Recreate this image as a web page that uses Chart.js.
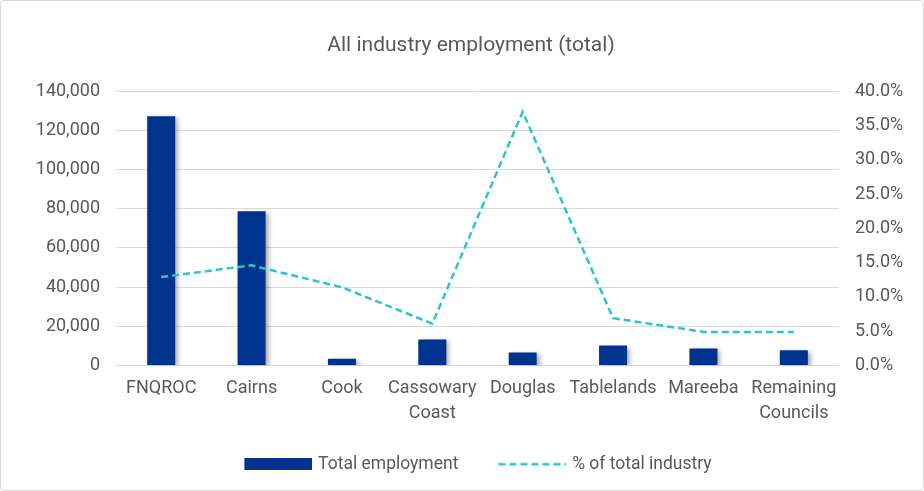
<!DOCTYPE html>
<html>
<head>
<meta charset="utf-8">
<script src="https://cdn.jsdelivr.net/npm/chart.js@4/dist/chart.umd.min.js"></script>
<style>
html,body{margin:0;padding:0;background:#fff;}
#wrap{position:relative;width:924px;height:491px;box-sizing:border-box;border:1px solid #d9d9d9;border-radius:4px;overflow:hidden;}
canvas{display:block;}
</style>
</head>
<body>
<div id="wrap"><canvas id="c" width="922" height="489" style="width:922px;height:489px"></canvas></div>
<script>
const categories = ['FNQROC', 'Cairns', 'Cook', ['Cassowary', 'Coast'], 'Douglas', 'Tablelands', 'Mareeba', ['Remaining', 'Councils']];
const totalEmployment = [127200, 78700, 3400, 13300, 6600, 10200, 8700, 7800];
const pctOfTotalIndustry = [12.9, 14.6, 11.4, 6.1, 37.0, 6.9, 4.9, 4.9];
const leftTicks = [0, 20000, 40000, 60000, 80000, 100000, 120000, 140000];
const rightTicks = [0, 5, 10, 15, 20, 25, 30, 35, 40];

const FONT = "Roboto, 'Liberation Sans', sans-serif";
const GREY = '#595959';
const BAR_COLOR = '#00338D';
const LINE_COLOR = '#2DC3D2';
const SW = 79; // legend slot width
const CW = SW + 6; // swatch canvas width (centred on slot, extends 3px each side)

function legendSwatch(kind) {
  const cv = document.createElement('canvas');
  cv.width = CW; cv.height = 12;
  const g = cv.getContext('2d');
  const x0 = CW - 68;
  if (kind === 'bar') {
    g.fillStyle = BAR_COLOR;
    g.fillRect(x0, 0, 68, 12);
  } else {
    g.strokeStyle = LINE_COLOR;
    g.lineWidth = 2.5;
    g.setLineDash([7, 4]);
    g.beginPath();
    g.moveTo(x0, 6); g.lineTo(CW, 6);
    g.stroke();
  }
  return cv;
}
const swatches = [legendSwatch('bar'), legendSwatch('line')];

const shadowPlugin = {
  id: 'barShadow',
  beforeDatasetDraw(chart, args) {
    if (args.index === 0) {
      const ctx = chart.ctx;
      ctx.save();
      ctx.shadowColor = 'rgba(0,0,0,0.35)';
      ctx.shadowBlur = 5;
      ctx.shadowOffsetX = 3;
      ctx.shadowOffsetY = 2;
    }
  },
  afterDatasetDraw(chart, args) {
    if (args.index === 0) chart.ctx.restore();
  }
};

new Chart(document.getElementById('c'), {
  type: 'bar',
  data: {
    labels: categories,
    datasets: [
      {
        type: 'bar',
        label: 'Total employment',
        data: totalEmployment,
        backgroundColor: BAR_COLOR,
        borderWidth: 0,
        yAxisID: 'y',
        order: 2,
        barPercentage: 0.62,
        categoryPercentage: 0.5
      },
      {
        type: 'line',
        label: '% of total industry',
        data: pctOfTotalIndustry,
        borderColor: LINE_COLOR,
        backgroundColor: LINE_COLOR,
        borderWidth: 2.5,
        borderDash: [7, 4],
        pointRadius: 0,
        pointHoverRadius: 0,
        tension: 0,
        fill: false,
        yAxisID: 'y1',
        order: 1
      }
    ]
  },
  options: {
    responsive: false,
    animation: false,
    devicePixelRatio: 1,
    layout: { padding: { left: 18, right: 0, top: 0, bottom: 7 } },
    plugins: {
      title: {
        display: true,
        text: 'All industry employment (total)',
        color: GREY,
        font: { family: FONT, size: 21, weight: 'normal' },
        padding: { top: 32, bottom: 33 }
      },
      legend: {
        position: 'bottom',
        labels: {
          usePointStyle: true,
          pointStyleWidth: SW,
          boxHeight: 12,
          color: GREY,
          font: { family: FONT, size: 17.5 },
          padding: 26,
          generateLabels: (chart) => chart.data.datasets.map((ds, i) => ({
            text: ds.label,
            datasetIndex: i,
            pointStyle: swatches[i],
            fillStyle: 'transparent',
            strokeStyle: 'transparent',
            lineWidth: 0,
            fontColor: GREY,
            hidden: false
          }))
        }
      },
      tooltip: { enabled: false }
    },
    scales: {
      x: {
        grid: { display: false, drawTicks: false },
        border: { display: false },
        ticks: { color: GREY, font: { family: FONT, size: 18, lineHeight: 1.4 }, padding: 10, maxRotation: 0, autoSkip: false },
        afterFit: (s) => { s.height = 64; }
      },
      y: {
        position: 'left',
        min: 0,
        max: 140000,
        afterBuildTicks: (s) => { s.ticks = leftTicks.map(v => ({ value: v })); },
        grid: { color: '#d9d9d9', lineWidth: 1, drawTicks: false },
        border: { display: false },
        ticks: {
          color: GREY,
          font: { family: FONT, size: 18 },
          padding: 16,
          callback: (v) => v.toLocaleString('en-US')
        },
        afterFit: (s) => { s.width = 97; }
      },
      y1: {
        position: 'right',
        min: 0,
        max: 40,
        afterBuildTicks: (s) => { s.ticks = rightTicks.map(v => ({ value: v })); },
        grid: { display: false, drawTicks: false },
        border: { display: false },
        ticks: {
          color: GREY,
          font: { family: FONT, size: 18 },
          padding: 16,
          callback: (v) => v.toFixed(1) + '%'
        },
        afterFit: (s) => { s.width = 84; }
      }
    }
  },
  plugins: [shadowPlugin]
});
</script>
</body>
</html>
